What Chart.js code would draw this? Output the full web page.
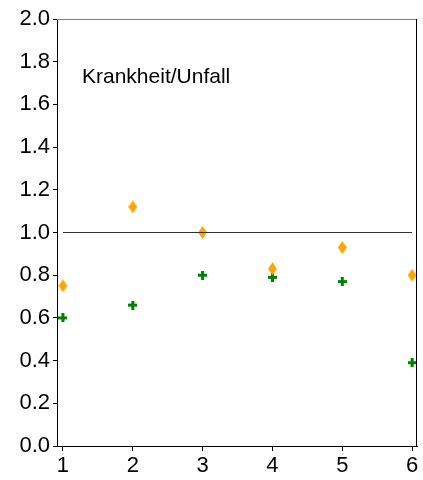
<!DOCTYPE html>
<html>
<head>
<meta charset="utf-8">
<script src="https://cdn.jsdelivr.net/npm/chart.js@4/dist/chart.umd.min.js"></script>
<style>
html,body{margin:0;padding:0;background:#fff;}
#wrap{width:423px;height:480px;position:relative;}
</style>
</head>
<body>
<div id="wrap"><canvas id="c" width="423" height="480"></canvas></div>
<script>
const categories = [1, 2, 3, 4, 5, 6];
const orangeValues = [0.75, 1.12, 1.00, 0.83, 0.93, 0.80];
const greenValues = [0.60, 0.66, 0.80, 0.79, 0.77, 0.39];
const referenceValue = 1.0;
const yTicks = [0.0, 0.2, 0.4, 0.6, 0.8, 1.0, 1.2, 1.4, 1.6, 1.8, 2.0];
const annotationText = "Krankheit/Unfall";

function diamondImage(w, h, color) {
  const c = document.createElement('canvas');
  c.width = w; c.height = h;
  const g = c.getContext('2d');
  g.fillStyle = color;
  g.beginPath();
  g.moveTo(w / 2, 0);
  g.lineTo(w, h / 2);
  g.lineTo(w / 2, h);
  g.lineTo(0, h / 2);
  g.closePath();
  g.fill();
  return c;
}
function plusImage(s, t, color) {
  const c = document.createElement('canvas');
  c.width = s; c.height = s;
  const g = c.getContext('2d');
  g.fillStyle = color;
  const o = (s - t) / 2;
  g.fillRect(o, 0, t, s);
  g.fillRect(0, o, s, t);
  return c;
}
const diamond = diamondImage(9, 13, '#FFA500');
const plus = plusImage(9, 3, '#008000');

const framePlugin = {
  id: 'frame',
  afterDatasetsDraw(chart) {
    const a = chart.chartArea, ctx = chart.ctx;
    ctx.save();
    ctx.lineWidth = 1;
    ctx.strokeStyle = '#808080';
    ctx.beginPath();
    ctx.moveTo(a.left, a.top + 0.5);
    ctx.lineTo(a.right, a.top + 0.5);
    ctx.stroke();
    ctx.strokeStyle = '#000';
    ctx.beginPath();
    ctx.moveTo(a.right - 0.5, a.top);
    ctx.lineTo(a.right - 0.5, a.bottom);
    ctx.stroke();
    ctx.fillStyle = '#000';
    ctx.font = '21px "Liberation Sans", Arial, sans-serif';
    ctx.textBaseline = 'middle';
    ctx.fillText(annotationText, 82, 77);
    ctx.restore();
  }
};

new Chart(document.getElementById('c'), {
  type: 'scatter',
  data: {
    datasets: [
      {
        type: 'line',
        data: [{x: categories[0], y: referenceValue}, {x: categories[categories.length - 1], y: referenceValue}],
        borderColor: '#333333',
        borderWidth: 1,
        pointRadius: 0,
        fill: false
      },
      {
        data: categories.map((x, i) => ({x: x, y: orangeValues[i]})),
        pointStyle: diamond,
        backgroundColor: '#FFA500'
      },
      {
        data: categories.map((x, i) => ({x: x, y: greenValues[i]})),
        pointStyle: plus,
        backgroundColor: '#008000'
      }
    ]
  },
  options: {
    responsive: false,
    animation: false,
    events: [],
    layout: {padding: {top: 19, right: 6, left: 0, bottom: 0}},
    plugins: {legend: {display: false}, tooltip: {enabled: false}},
    scales: {
      x: {
        type: 'linear',
        min: 0.915,
        max: 6.07,
        afterBuildTicks(axis) { axis.ticks = categories.map(v => ({value: v})); },
        afterFit(axis) { axis.height = 34; },
        grid: {drawOnChartArea: false, tickLength: 5, tickColor: '#000', color: '#000'},
        border: {color: '#000', width: 1},
        ticks: {color: '#000', padding: 2, font: {family: '"Liberation Sans", Arial, sans-serif', size: 22}, maxRotation: 0}
      },
      y: {
        min: 0,
        max: 2,
        afterBuildTicks(axis) { axis.ticks = yTicks.map(v => ({value: v})); },
        afterFit(axis) { axis.width = 57; },
        grid: {drawOnChartArea: false, tickLength: 4, tickColor: '#000', color: '#000'},
        border: {color: '#000', width: 1},
        ticks: {color: '#000', padding: 3, font: {family: '"Liberation Sans", Arial, sans-serif', size: 22}, callback: v => v.toFixed(1)}
      }
    }
  },
  plugins: [framePlugin]
});
</script>
</body>
</html>
